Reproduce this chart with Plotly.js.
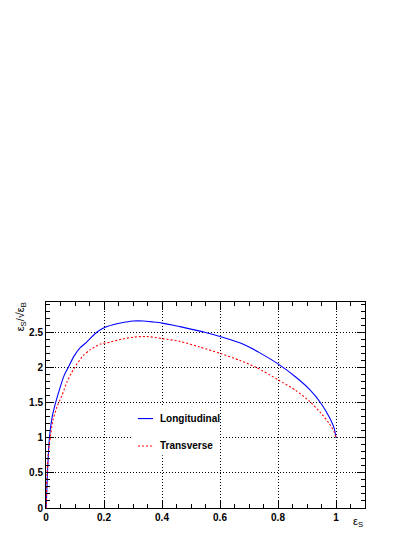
<!DOCTYPE html>
<html>
<head>
<meta charset="utf-8">
<script src="https://cdn.plot.ly/plotly-3.0.1.min.js"></script>
<style>
  html, body { margin: 0; padding: 0; background: #fff; }
  #chart { width: 415px; height: 537px; }
</style>
</head>
<body>
<div id="chart"></div>
<script>
// ---- Datos ----
const longEffS = [0, 0.001, 0.0055, 0.012, 0.021, 0.032, 0.049, 0.063, 0.078, 0.095, 0.118, 0.135,
  0.152, 0.175, 0.204, 0.244, 0.275, 0.301, 0.335, 0.37, 0.40, 0.44, 0.4615, 0.547, 0.60, 0.668,
  0.702, 0.736, 0.80, 0.862, 0.908, 0.948, 0.977, 0.994, 1.0];
const longSignif = [0, 0.05, 0.54, 1.01, 1.29, 1.48, 1.72, 1.89, 2.01, 2.15, 2.28, 2.34,
  2.41, 2.50, 2.57, 2.62, 2.645, 2.66, 2.66, 2.645, 2.63, 2.60, 2.58, 2.50, 2.44, 2.35,
  2.285, 2.21, 2.05, 1.86, 1.69, 1.49, 1.29, 1.13, 1.0];

const transEffS = [0, 0.001, 0.003, 0.009, 0.015, 0.024, 0.038, 0.055, 0.072, 0.089, 0.107, 0.129,
  0.152, 0.187, 0.221, 0.26, 0.301, 0.347, 0.40, 0.4615, 0.53, 0.60, 0.668, 0.725, 0.80,
  0.862, 0.908, 0.948, 0.977, 0.994, 1.0];
const transSignif = [0, 0.05, 0.44, 0.82, 1.01, 1.25, 1.44, 1.60, 1.79, 1.93, 2.05, 2.17,
  2.25, 2.33, 2.36, 2.40, 2.43, 2.44, 2.41, 2.37, 2.29, 2.20, 2.10, 2.00, 1.825,
  1.67, 1.52, 1.35, 1.20, 1.08, 1.0];

const seriesNames = ['Longitudinal', 'Transverse'];
const xTicks = [0, 0.2, 0.4, 0.6, 0.8, 1];
const xTickLabels = ['0', '0.2', '0.4', '0.6', '0.8', '1'];
const yTicks = [0, 0.5, 1, 1.5, 2, 2.5];
const yTickLabels = ['0', '0.5', '1', '1.5', '2', '2.5'];

const BLUE = '#0000ff';
const RED = '#ff0000';
const FONT = 'Liberation Sans, Arial, sans-serif';

// ---- Trazas ----
const traceLong = {
  x: longEffS, y: longSignif, name: seriesNames[0],
  type: 'scatter', mode: 'lines',
  line: { color: BLUE, width: 1.1, shape: 'spline', smoothing: 0.6 },
  showlegend: false, hoverinfo: 'skip'
};

const traceTrans = {
  x: transEffS, y: transSignif, name: seriesNames[1],
  type: 'scatter', mode: 'lines',
  line: { color: RED, width: 1.1, dash: '2px,2px', shape: 'spline', smoothing: 0.6 },
  showlegend: false, hoverinfo: 'skip'
};

// ---- Ejes estilo ROOT ----
const axisBase = {
  showline: true, linecolor: '#000', linewidth: 1, mirror: 'allticks',
  ticks: 'inside', ticklen: 8, tickwidth: 1, tickcolor: '#000',
  showgrid: true, gridcolor: '#000', gridwidth: 1, griddash: '1px,2px',
  zeroline: false,
  tickfont: { family: FONT, size: 10, color: '#000', weight: 'bold' }
};

const layout = {
  width: 415, height: 537,
  paper_bgcolor: '#fff', plot_bgcolor: '#fff',
  margin: { l: 46, r: 50, t: 302, b: 29 },
  showlegend: false,
  xaxis: Object.assign({}, axisBase, {
    range: [0, 1.1], tickvals: xTicks, ticktext: xTickLabels,
    minor: { dtick: 0.05, ticks: 'inside', ticklen: 4, tickcolor: '#000', showgrid: false }
  }),
  yaxis: Object.assign({}, axisBase, {
    range: [0, 2.93], tickvals: yTicks, ticktext: yTickLabels,
    minor: { dtick: 0.1, ticks: 'inside', ticklen: 4, tickcolor: '#000', showgrid: false }
  }),
  shapes: [
    // caja blanca de la leyenda
    { type: 'rect', xref: 'x', yref: 'y', x0: 0.30, x1: 0.595, y0: 0.75, y1: 1.46,
      fillcolor: '#fff', line: { width: 0 }, layer: 'between' },
    { type: 'line', xref: 'x', yref: 'y', x0: 0.317, x1: 0.369, y0: 1.272, y1: 1.272,
      line: { color: BLUE, width: 1.1 } },
    { type: 'line', xref: 'x', yref: 'y', x0: 0.317, x1: 0.369, y0: 0.882, y1: 0.882,
      line: { color: RED, width: 1.1, dash: '2px,2px' } }
  ],
  annotations: [
    { text: seriesNames[0], xref: 'x', yref: 'y', x: 0.385, y: 1.272,
      xanchor: 'left', yanchor: 'middle', showarrow: false,
      font: { family: FONT, size: 10, color: '#000', weight: 'bold' } },
    { text: seriesNames[1], xref: 'x', yref: 'y', x: 0.385, y: 0.882,
      xanchor: 'left', yanchor: 'middle', showarrow: false,
      font: { family: FONT, size: 10, color: '#000', weight: 'bold' } },
    // títulos de ejes
    { text: 'ε<sub>S</sub>', xref: 'paper', yref: 'paper', x: 1, y: -0.069,
      xanchor: 'right', yanchor: 'middle', showarrow: false,
      font: { family: FONT, size: 11, color: '#000' } },
    { text: 'ε<sub>S</sub>/√ε<sub>B</sub>', xref: 'paper', yref: 'paper', x: -0.08, y: 1.008,
      xanchor: 'center', yanchor: 'top', textangle: -90, showarrow: false,
      font: { family: FONT, size: 11, color: '#000' } }
  ]
};

const config = { displayModeBar: false, staticPlot: true };

Plotly.newPlot('chart', [traceLong, traceTrans], layout, config);
</script>
</body>
</html>
